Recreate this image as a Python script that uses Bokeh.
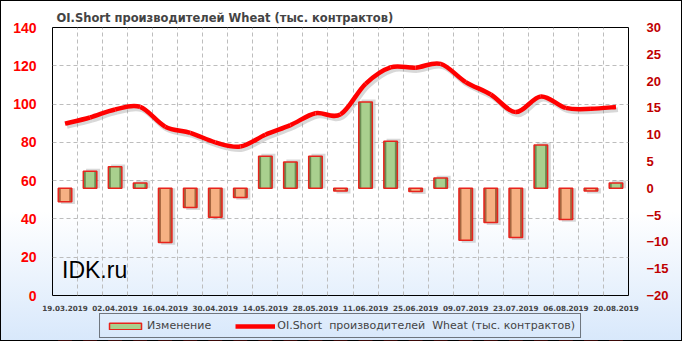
from bokeh.plotting import figure
from bokeh.layouts import column
from bokeh.models import (Range1d, LinearAxis, FixedTicker, Legend, LegendItem,
                          ColumnDataSource, Label, Grid)
from bokeh.embed import file_html
from bokeh.resources import INLINE

# ---------------- data ----------------
dates = ["19.03.2019", "26.03.2019", "02.04.2019", "09.04.2019", "16.04.2019",
         "23.04.2019", "30.04.2019", "07.05.2019", "14.05.2019", "21.05.2019",
         "28.05.2019", "04.06.2019", "11.06.2019", "18.06.2019", "25.06.2019",
         "02.07.2019", "09.07.2019", "16.07.2019", "23.07.2019", "30.07.2019",
         "06.08.2019", "13.08.2019", "20.08.2019"]
oi_short = [89.8, 93.0, 97.2, 98.5, 88.2, 85.0, 80.0, 77.8, 84.0, 89.0,
            95.2, 94.6, 110.6, 119.2, 119.0, 121.0, 111.5, 105.0, 95.8, 104.0,
            98.0, 97.5, 98.5]
change = [-2.5, 3.2, 4.0, 1.0, -10.1, -3.6, -5.4, -1.7, 6.0, 4.9,
          6.0, -0.5, 16.1, 8.8, -0.6, 1.9, -9.7, -6.4, -9.2, 8.1,
          -5.8, -0.5, 1.0]
left_ticks = [0, 20, 40, 60, 80, 100, 120, 140]
right_ticks = [-20, -15, -10, -5, 0, 5, 10, 15, 20, 25, 30]
series_names = ["Изменение", "OI.Short  производителей  Wheat (тыс. контрактов)"]

n = len(dates)
xs = list(range(n))

FONT = "DejaVu Sans"
LINE_RED = "#ff0000"
BAR_RED = "#e8231c"

p = figure(frame_width=576, frame_height=268, output_backend="svg", toolbar_location=None,
           x_range=Range1d(-0.5, n - 0.5), y_range=Range1d(0, 140),
           min_border_left=52, min_border_right=54, min_border_top=27,
           min_border_bottom=14)
p.extra_y_ranges = {"chg": Range1d(-20, 30)}
p.background_fill_alpha = 0
p.border_fill_alpha = 0
p.outline_line_color = "black"
p.outline_line_width = 1

# title
p.title.text = "OI.Short  производителей  Wheat (тыс. контрактов)"
p.title.text_font = FONT
p.title.text_font_size = "11.5px"
p.title.text_font_style = "bold"
p.title.align = "left"
p.title.offset = 4
p.title.standoff = 6

# grids
p.xgrid.visible = False
p.ygrid.ticker = FixedTicker(ticks=left_ticks[1:-1])
p.ygrid.grid_line_color = "#bdbdbd"
p.ygrid.grid_line_dash = "4 3"
vgrid = Grid(dimension=0, ticker=FixedTicker(ticks=[i + 0.5 for i in range(n - 1)]),
             grid_line_color="#bdbdbd", grid_line_dash="4 3")
p.add_layout(vgrid)

# axes
xa = p.xaxis[0]
xa.ticker = FixedTicker(ticks=xs[::2])
xa.major_label_overrides = {i: dates[i] for i in xs}
xa.major_label_text_font = FONT
xa.major_label_text_font_size = "7.2px"
xa.major_label_text_font_style = "bold"
xa.major_tick_line_color = None
xa.minor_tick_line_color = None
xa.axis_line_color = None
xa.major_label_standoff = 3

ya = p.yaxis[0]
ya.ticker = FixedTicker(ticks=left_ticks)
ya.major_label_text_color = "#ff0000"
ya.major_label_text_font = "Liberation Sans"
ya.major_label_text_font_size = "14px"
ya.major_label_text_font_style = "bold"
ya.major_tick_line_color = None
ya.minor_tick_line_color = None
ya.axis_line_color = None
ya.major_label_standoff = 10

ra = LinearAxis(y_range_name="chg", ticker=FixedTicker(ticks=right_ticks))
ra.major_label_text_color = "#c00000"
ra.major_label_text_font = "Liberation Sans"
ra.major_label_text_font_size = "13px"
ra.major_label_text_font_style = "bold"
ra.major_tick_line_color = None
ra.minor_tick_line_color = None
ra.axis_line_color = None
ra.major_label_standoff = 12
p.add_layout(ra, "right")

# ---------------- bars ----------------
pos = [v >= 0 for v in change]
bar_src = ColumnDataSource(dict(
    x=xs, top=change, bottom=[0] * n,
    main=["#a9d08e" if s else "#f6b183" for s in pos],
    edge=["#6b8c52" if s else "#a5663f" for s in pos],
    sx=[x + 0.12 for x in xs],
    stop=[v + 0.45 if s else v - 0.45 for v, s in zip(change, pos)],
))
p.vbar(x="sx", top="stop", bottom="bottom", width=0.56, source=bar_src,
       y_range_name="chg", fill_color="#808080", fill_alpha=0.3, line_color=None)
p.vbar(x="x", top="top", bottom="bottom", width=0.54, source=bar_src,
       y_range_name="chg", fill_color="edge", line_color=None)
p.vbar(x="x", top="top", bottom="bottom", width=0.34, source=bar_src,
       y_range_name="chg", fill_color="main", line_color=None)
p.vbar(x="x", top="top", bottom="bottom", width=0.54, source=bar_src,
       y_range_name="chg", fill_color=None, line_color=BAR_RED, line_width=1.5)

# ---------------- smoothed line (Catmull-Rom as Bezier) ----------------
x0, y0, x1, y1, cx0, cy0, cx1, cy1 = [], [], [], [], [], [], [], []
for i in range(n - 1):
    xp, yp = xs[max(i - 1, 0)], oi_short[max(i - 1, 0)]
    xa_, ya_ = xs[i], oi_short[i]
    xb, yb = xs[i + 1], oi_short[i + 1]
    xn, yn = xs[min(i + 2, n - 1)], oi_short[min(i + 2, n - 1)]
    x0.append(xa_); y0.append(ya_); x1.append(xb); y1.append(yb)
    cx0.append(xa_ + (xb - xp) / 6); cy0.append(ya_ + (yb - yp) / 6)
    cx1.append(xb - (xn - xa_) / 6); cy1.append(yb - (yn - ya_) / 6)
line_src = ColumnDataSource(dict(x0=x0, y0=y0, x1=x1, y1=y1,
                                 cx0=cx0, cy0=cy0, cx1=cx1, cy1=cy1))
shadow_src = ColumnDataSource(dict(x0=[v + 0.08 for v in x0], y0=[v - 1.4 for v in y0],
                                   x1=[v + 0.08 for v in x1], y1=[v - 1.4 for v in y1],
                                   cx0=[v + 0.08 for v in cx0], cy0=[v - 1.4 for v in cy0],
                                   cx1=[v + 0.08 for v in cx1], cy1=[v - 1.4 for v in cy1]))
p.bezier(x0="x0", y0="y0", x1="x1", y1="y1", cx0="cx0", cy0="cy0", cx1="cx1", cy1="cy1",
         source=shadow_src, line_color="#909090", line_alpha=0.35, line_width=5)
p.bezier(x0="x0", y0="y0", x1="x1", y1="y1", cx0="cx0", cy0="cy0",
         cx1="cx1", cy1="cy1", source=line_src, line_color=LINE_RED, line_width=4.5)

# watermark
p.add_layout(Label(x=-0.12, y=6.5, text="IDK.ru", text_font="Liberation Sans",
                   text_font_size="23px", text_color="#000000"))

# ---------------- legend strip (separate figure under the chart) ----------------
lg = figure(width=682, height=28, output_backend="svg", toolbar_location=None,
            title=None, x_axis_location=None, y_axis_location=None,
            x_range=Range1d(-0.5, n - 0.5), y_range=Range1d(1000, 1001),
            min_border_left=0, min_border_right=0, min_border_top=0, min_border_bottom=0)
lg.background_fill_alpha = 0
lg.border_fill_alpha = 0
lg.outline_line_color = None
lg.grid.visible = False
# same series, out of this strip's visible range: only their legend glyphs show
lg_bar = lg.vbar(x=xs, top=change, width=0.54, fill_color="#a9d08e",
                 line_color=BAR_RED, line_width=1.5)
lg_line = lg.line(xs, oi_short, line_color=LINE_RED, line_width=4.5)
legend = Legend(items=[
    LegendItem(label=series_names[0], renderers=[lg_bar]),
    LegendItem(label=series_names[1], renderers=[lg_line]),
], orientation="horizontal", location="top", ncols=2, nrows=1,
    label_text_font=FONT, label_text_font_size="11px",
    glyph_width=40, glyph_height=8, spacing=24, padding=5, margin=0,
    label_standoff=2,
    border_line_color="#000000", border_line_width=1,
    background_fill_alpha=0)
lg.add_layout(legend)

layout = column(p, lg, spacing=0)
layout.styles = {"background": "linear-gradient(to bottom, #ffffff 0%, #ffffff 62%, #d8e8fb 100%)",
                 "outline": "1px solid #000", "outline-offset": "-1px"}

open("out.html", "w").write(file_html(layout, INLINE))
